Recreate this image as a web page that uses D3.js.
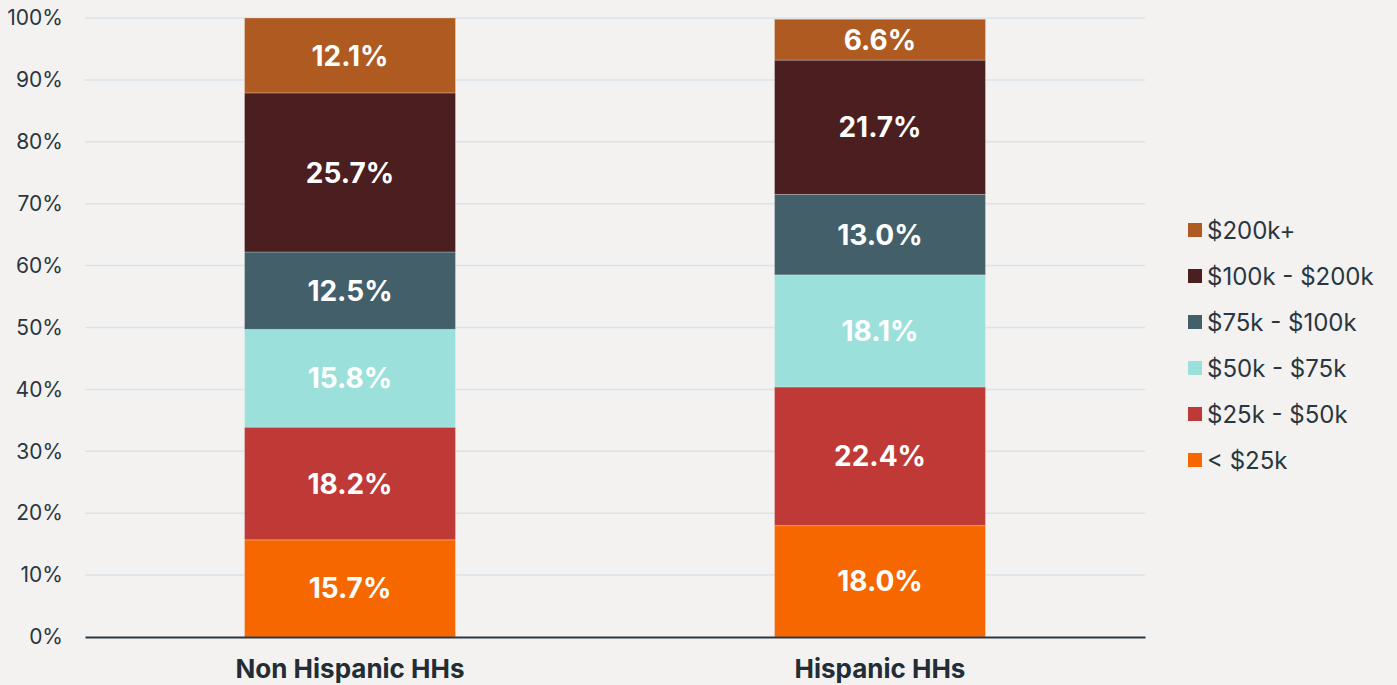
<!DOCTYPE html>
<html>
<head>
<meta charset="utf-8">
<script src="https://cdn.jsdelivr.net/npm/d3@7"></script>
<style>
  body { margin: 0; background: #f3f2f0; }
  text { font-family: Inter, "Open Sans", sans-serif; }
</style>
</head>
<body>
<div id="chart-area"></div>
<script>
let groups = ["Non Hispanic HHs", "Hispanic HHs"];
let brackets = ["< $25k", "$25k - $50k", "$50k - $75k", "$75k - $100k", "$100k - $200k", "$200k+"];
let nonHispanic = [15.7, 18.2, 15.8, 12.5, 25.7, 12.1];
let hispanic = [18.0, 22.4, 18.1, 13.0, 21.7, 6.6];
let colors = ["#f76700", "#bf3a36", "#9ce0dc", "#425f6a", "#4b1e20", "#ae5a20"];
let yTicks = [0, 10, 20, 30, 40, 50, 60, 70, 80, 90, 100];

let W = 1397, H = 685;
let margin = {left: 85, right: 252, top: 18, bottom: 48};
let width = W - margin.left - margin.right,
    height = H - margin.top - margin.bottom;

let svg = d3.select("#chart-area")
    .append("svg")
    .attr("width", W)
    .attr("height", H);

let g = svg.append("g")
    .attr("transform", "translate(" + margin.left + "," + margin.top + ")");

// build rows for stacking
let rows = groups.map(function (name, i) {
    let vals = i === 0 ? nonHispanic : hispanic;
    let row = {group: name};
    brackets.forEach(function (b, j) { row[b] = vals[j]; });
    return row;
});

let x = d3.scaleBand()
    .domain(groups)
    .range([0, width])
    .paddingInner(0.602)
    .paddingOuter(0.301);

let y = d3.scaleLinear()
    .domain([0, 100])
    .range([height, 0]);

// gridlines
g.append("g")
    .selectAll("line")
    .data(yTicks.slice(1))
    .enter()
    .append("line")
    .attr("x1", 0)
    .attr("x2", width)
    .attr("y1", function (d) { return y(d); })
    .attr("y2", function (d) { return y(d); })
    .attr("stroke", "#dbe2ea")
    .attr("stroke-width", 1.5);

// Y axis labels
let yAxis = d3.axisLeft(y)
    .tickValues(yTicks)
    .tickSize(0)
    .tickPadding(22)
    .tickFormat(function (d) { return d + "%"; });
let ya = g.append("g").call(yAxis);
ya.select(".domain").remove();
ya.selectAll("text")
    .attr("font-size", "21px")
    .attr("fill", "#2a3640")
    .attr("font-family", "Inter, sans-serif");

// stacks
let stack = d3.stack().keys(brackets);
let series = stack(rows);

let layers = g.selectAll(".layer")
    .data(series)
    .enter()
    .append("g")
    .attr("fill", function (d, i) { return colors[i]; });

layers.selectAll("rect")
    .data(function (d) { return d; })
    .enter()
    .append("rect")
    .attr("x", function (d) { return x(d.data.group); })
    .attr("y", function (d) { return y(d[1]); })
    .attr("height", function (d) { return y(d[0]) - y(d[1]); })
    .attr("width", x.bandwidth())
    .attr("stroke", "rgba(255,255,255,0.25)")
    .attr("stroke-width", 1);

layers.selectAll("text")
    .data(function (d) { return d; })
    .enter()
    .append("text")
    .attr("x", function (d) { return x(d.data.group) + x.bandwidth() / 2; })
    .attr("y", function (d) { return (y(d[0]) + y(d[1])) / 2; })
    .attr("dy", "0.36em")
    .attr("text-anchor", "middle")
    .attr("fill", "#ffffff")
    .attr("font-size", "28px")
    .attr("font-weight", "bold")
    .text(function (d) { return (d[1] - d[0]).toFixed(1) + "%"; });

// X axis
let xAxis = d3.axisBottom(x).tickSize(0).tickPadding(23);
let xa = g.append("g")
    .attr("transform", "translate(0," + height + ")")
    .call(xAxis);
xa.select(".domain").attr("stroke", "#2a3640").attr("stroke-width", 2);
xa.selectAll("text")
    .attr("font-size", "26px")
    .attr("font-weight", "bold")
    .attr("fill", "#222d36")
    .attr("font-family", "Inter, sans-serif");

// legend
let legend = svg.append("g")
    .attr("transform", "translate(1188,230)");
let legendItems = brackets.slice().reverse();
let li = legend.selectAll("g")
    .data(legendItems)
    .enter()
    .append("g")
    .attr("transform", function (d, i) { return "translate(0," + (i * 46) + ")"; });
li.append("rect")
    .attr("x", 0)
    .attr("y", -7)
    .attr("width", 14)
    .attr("height", 14)
    .attr("fill", function (d) { return colors[brackets.indexOf(d)]; });
li.append("text")
    .attr("x", 19)
    .attr("y", 0)
    .attr("dy", "0.36em")
    .attr("font-size", "24px")
    .attr("fill", "#2a3640")
    .text(function (d) { return d; });
</script>
</body>
</html>
